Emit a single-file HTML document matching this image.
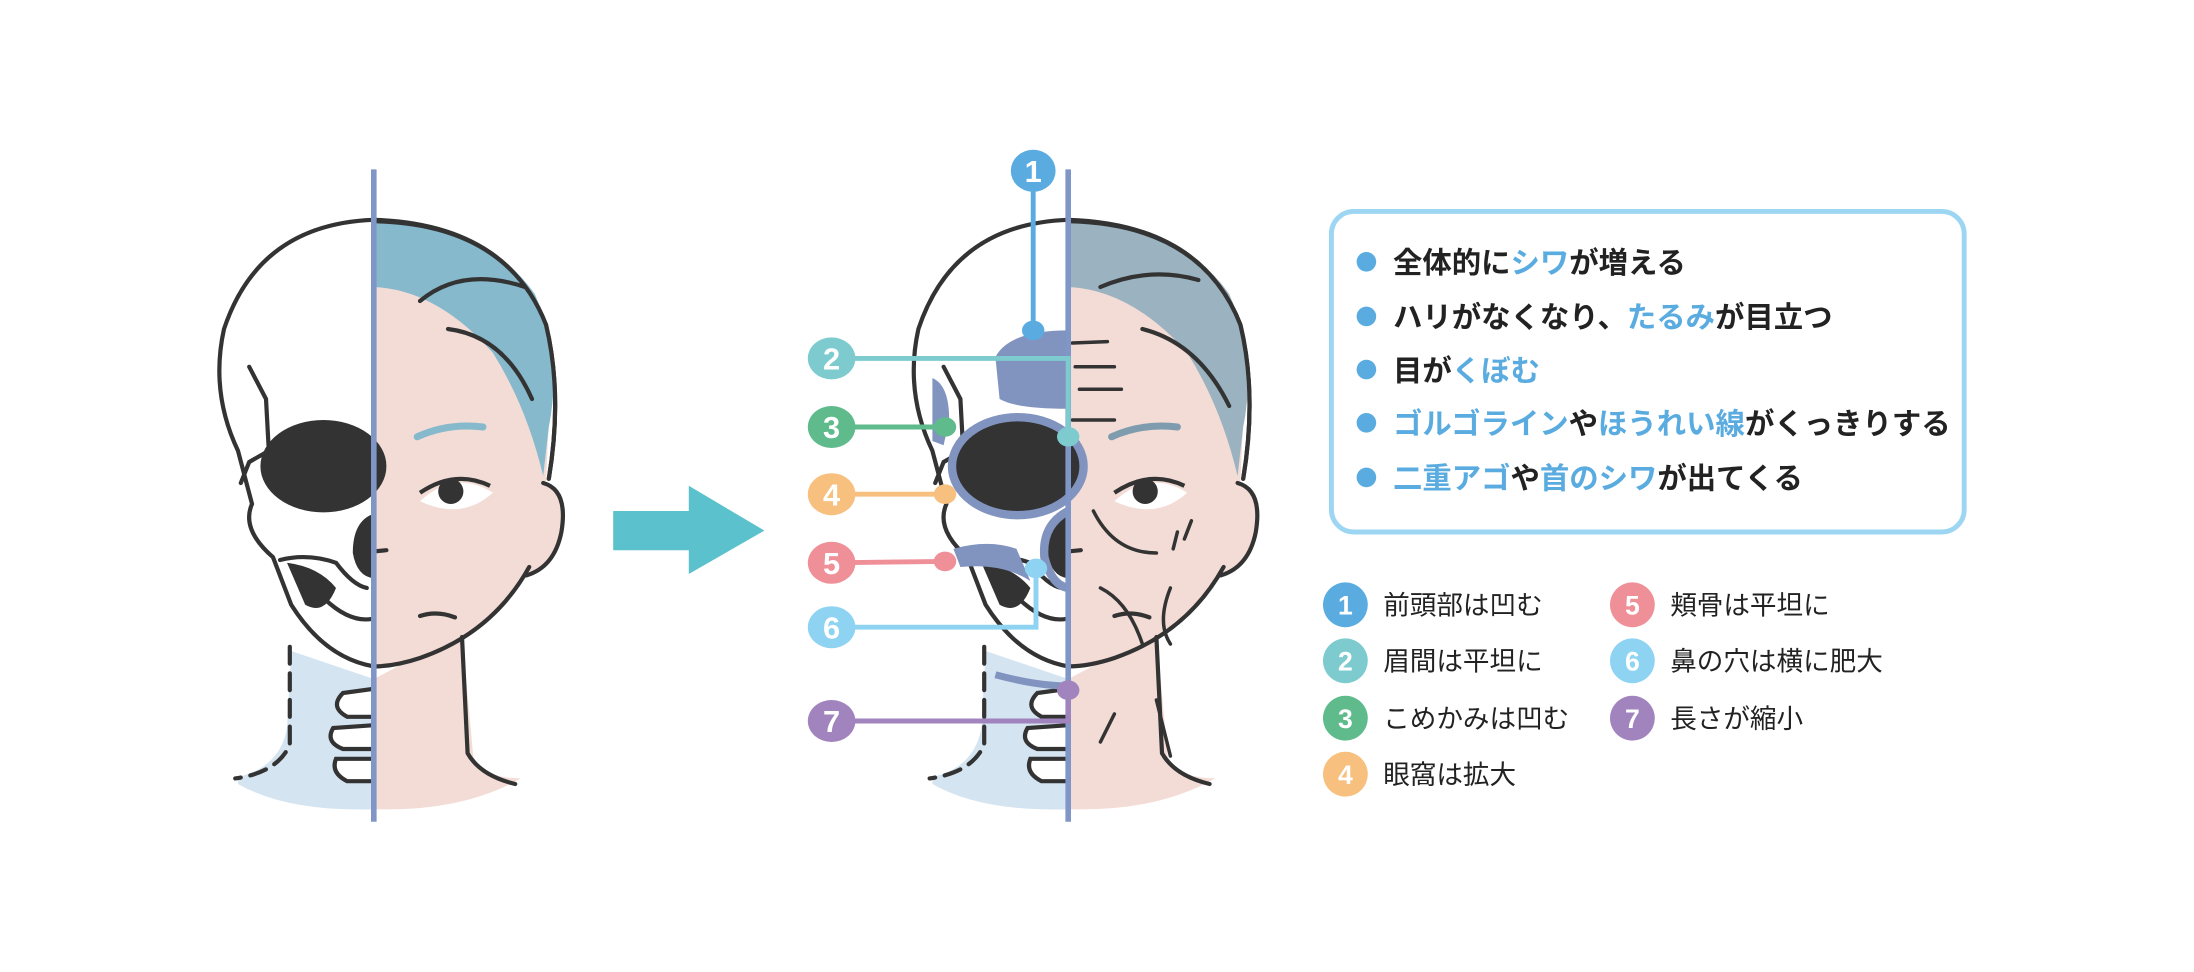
<!DOCTYPE html>
<html><head><meta charset="utf-8"><style>
html,body{margin:0;padding:0;background:#fff;}
svg{display:block;}
text{font-family:"Liberation Sans","Noto Sans CJK JP",sans-serif;}
</style></head><body>
<svg width="2194" height="972" viewBox="0 0 1567.14 694.29" xmlns="http://www.w3.org/2000/svg">
<defs>
<g id="headbase">
  <!-- neck fills -->
  <path d="M170,555 Q200,548 205,520 L208,465 L267,485 L267,578 Q205,580 170,560 Z" fill="#d4e4f1"/>
  <path d="M267,485 L330,452 L338,540 Q345,556 372,556 Q330,580 267,578 Z" fill="#f3dcd6"/>
  <!-- skull white -->
  <path d="M267,157 Q185,160 160,235 Q150,280 170,322 L180,360 Q172,378 195,398 L208,432 Q232,470 267,476 Z" fill="#fff"/>
  <!-- face pink -->
  <path d="M267,195 Q340,200 375,270 L392,300 L390,345 Q404,352 400,380 Q395,405 377,410 Q350,452 300,470 Q280,476 267,476 Z" class="face"/>
  <!-- outline -->
  <g fill="none" stroke="#333" stroke-width="3" stroke-linecap="round">
    <path d="M267,157 Q185,160 160,235 Q150,280 170,322 L180,360 Q172,378 195,398 L208,432 Q232,470 267,476"/>
    <path d="M267,157 Q362,160 390,232 Q402,282 392,342"/>
    <path d="M388,345 Q406,350 401,380 Q396,405 376,411"/>
    <path d="M378,405 Q352,452 300,470 Q282,476 267,476"/>
    <path d="M330,455 L334,538 Q343,554 368,560"/>
    <path d="M207,462 L207,532 Q198,552 168,556" stroke-dasharray="12,7"/>
    <path d="M178,262 L190,285 L192,322 L178,330 L172,345"/>
    <path d="M200,400 Q220,395 240,402 Q252,418 262,420"/>
    <path d="M232,428 Q250,445 266,442"/>
    <path d="M300,440 Q312,436 325,441"/>
    <path d="M266,394 L276,393"/>
  </g>
  <!-- eye socket & nose (skull) -->
  <ellipse cx="231" cy="333" rx="45" ry="33" fill="#333"/>
  <path d="M267,367 Q252,372 252,395 Q255,412 267,413 Z" fill="#333"/>
  <path d="M205,402 Q228,405 240,420 Q232,440 218,432 Z" fill="#333"/>
  <!-- vertebrae -->
  <g fill="#fff" stroke="#333" stroke-width="3">
    <path d="M245,495 Q235,505 248,512 L267,512 L267,492 Z"/>
    <path d="M238,520 Q232,530 245,535 L267,535 L267,518 Z"/>
    <path d="M240,542 Q236,552 248,558 L267,558 L267,542 Z"/>
  </g>
  <!-- eye -->
  <path d="M300,358 Q325,335 352,352 Q330,372 300,358 Z" fill="#fff"/>
  <circle cx="322" cy="351" r="9" fill="#333"/>
  <path d="M300,352 Q325,335 350,347" fill="none" stroke="#333" stroke-width="3"/>
</g>
</defs>

<!-- LEFT HEAD -->
<g>
  <style>.face{fill:#f3dcd6}</style>
  <use href="#headbase"/>
  <path d="M267,158 Q345,158 382,210 Q402,255 392,305 L388,340 Q376,290 352,252 Q312,207 267,205 Z" fill="#86b9cc"/>
  <g fill="none" stroke="#333" stroke-width="3" stroke-linecap="round">
    <path d="M267,158 Q362,160 390,232 Q402,282 392,342"/>
    <path d="M300,215 Q330,190 375,205"/>
    <path d="M320,235 Q360,240 380,285"/>
  </g>
  <path d="M298,312 Q320,302 345,305" fill="none" stroke="#86b9cc" stroke-width="5" stroke-linecap="round"/>
  <line x1="267" y1="121" x2="267" y2="587" stroke="#7f96c6" stroke-width="4"/>
</g>

<!-- ARROW -->
<path d="M438,365 L492,365 L492,347 L546,379 L492,410 L492,393 L438,393 Z" fill="#5bc1cc"/>

<!-- RIGHT HEAD -->
<g transform="translate(496,0)">
  <use href="#headbase"/>
  <path d="M267,158 Q345,158 382,210 Q402,255 392,305 L388,340 Q376,290 352,252 Q312,207 267,205 Z" fill="#9bb3c0"/>
  <g fill="none" stroke="#333" stroke-width="3" stroke-linecap="round">
    <path d="M267,158 Q362,160 390,232 Q402,282 392,342"/>
    <path d="M290,205 Q325,190 360,200"/>
    <path d="M320,235 Q360,245 382,290"/>
    <path d="M270,245 L295,244 M272,262 L300,262 M275,278 L305,278 M270,300 L300,300" stroke-width="2.5"/>
    <path d="M285,365 Q300,395 330,395 M345,380 L342,392 M355,372 L350,385" stroke-width="2.5"/>
    <path d="M290,420 Q310,430 320,460 M340,420 Q330,445 340,460" stroke-width="2.5"/>
    <path d="M330,500 L340,540 M300,510 L290,530" stroke-width="2.5"/>
  </g>
  <path d="M298,312 Q320,302 345,305" fill="none" stroke="#7f9cae" stroke-width="5" stroke-linecap="round"/>
  <!-- purple bone areas -->
  <path d="M215,255 Q225,236 267,236 L267,292 Q230,292 218,285 Z" fill="#8193bf"/>
  <path d="M170,270 Q182,275 182,300 L178,318 L170,315 Z" fill="#8193bf"/>
  <ellipse cx="231" cy="333" rx="47" ry="35" fill="none" stroke="#8193bf" stroke-width="6"/>
  <path d="M185,392 Q210,385 230,392 L240,415 Q220,402 190,405 Z" fill="#8193bf"/>
  <path d="M267,365 Q248,375 250,398 Q255,418 267,420" fill="none" stroke="#8193bf" stroke-width="6"/>
  <path d="M215,482 Q245,490 267,490" fill="none" stroke="#8193bf" stroke-width="5"/>
  <line x1="267" y1="121" x2="267" y2="587" stroke="#7f96c6" stroke-width="4"/>
</g>

<!-- CONNECTORS -->
<g stroke-width="3.5" fill="none">
  <path d="M738,122 L738,236" stroke="#5aace0"/>
  <path d="M594,256 L763,256 L763,312" stroke="#7ecbcf"/>
  <path d="M594,305 L675,305" stroke="#5fba8c"/>
  <path d="M594,353 L675,353" stroke="#f7c07e"/>
  <path d="M594,402 L675,401" stroke="#ef8f98"/>
  <path d="M594,448 L740,448 L740,407" stroke="#8fd3f2"/>
  <path d="M594,515 L763,515 L763,493" stroke="#a184bd"/>
</g>
<g>
  <ellipse cx="738" cy="236" rx="8" ry="7" fill="#5aace0"/>
  <ellipse cx="763" cy="312" rx="8" ry="7" fill="#7ecbcf"/>
  <ellipse cx="675" cy="305" rx="8" ry="7" fill="#5fba8c"/>
  <ellipse cx="675" cy="353" rx="8" ry="7" fill="#f7c07e"/>
  <ellipse cx="675" cy="401" rx="8" ry="7" fill="#ef8f98"/>
  <ellipse cx="740" cy="406" rx="8" ry="7" fill="#8fd3f2"/>
  <ellipse cx="763" cy="493" rx="8" ry="7" fill="#a184bd"/>
</g>
<g font-size="22" font-weight="bold" fill="#fff" text-anchor="middle">
  <ellipse cx="738" cy="122" rx="16" ry="15" fill="#5aace0"/><text x="738" y="130">1</text>
  <ellipse cx="594" cy="256" rx="17" ry="15" fill="#7ecbcf"/><text x="594" y="264">2</text>
  <ellipse cx="594" cy="305" rx="17" ry="15" fill="#5fba8c"/><text x="594" y="313">3</text>
  <ellipse cx="594" cy="353" rx="17" ry="15" fill="#f7c07e"/><text x="594" y="361">4</text>
  <ellipse cx="594" cy="402" rx="17" ry="15" fill="#ef8f98"/><text x="594" y="410">5</text>
  <ellipse cx="594" cy="448" rx="17" ry="15" fill="#8fd3f2"/><text x="594" y="456">6</text>
  <ellipse cx="594" cy="515" rx="17" ry="15" fill="#a184bd"/><text x="594" y="523">7</text>
</g>

<!-- BOX -->
<rect x="951" y="151" width="452" height="229" rx="16" fill="#fff" stroke="#9dd6f3" stroke-width="3.5"/>
<g fill="#5aace0">
  <circle cx="976" cy="187" r="7"/><circle cx="976" cy="226" r="7"/><circle cx="976" cy="264" r="7"/>
  <circle cx="976" cy="302" r="7"/><circle cx="976" cy="341" r="7"/>
</g>
<g font-size="21" font-weight="bold" fill="#222">
  <text x="995" y="195">全体的に<tspan fill="#5aace0">シワ</tspan>が増える</text>
  <text x="995" y="234">ハリがなくなり、<tspan fill="#5aace0">たるみ</tspan>が目立つ</text>
  <text x="995" y="272">目が<tspan fill="#5aace0">くぼむ</tspan></text>
  <text x="995" y="310"><tspan fill="#5aace0">ゴルゴライン</tspan>や<tspan fill="#5aace0">ほうれい線</tspan>がくっきりする</text>
  <text x="995" y="349"><tspan fill="#5aace0">二重アゴ</tspan>や<tspan fill="#5aace0">首のシワ</tspan>が出てくる</text>
</g>

<!-- LEGEND -->
<g font-size="19" font-weight="bold" fill="#fff" text-anchor="middle">
  <ellipse cx="961" cy="432" rx="16" ry="16" fill="#5aace0"/><text x="961" y="439">1</text>
  <ellipse cx="961" cy="472" rx="16" ry="16" fill="#7ecbcf"/><text x="961" y="479">2</text>
  <ellipse cx="961" cy="513" rx="16" ry="16" fill="#5fba8c"/><text x="961" y="520">3</text>
  <ellipse cx="961" cy="553" rx="16" ry="16" fill="#f7c07e"/><text x="961" y="560">4</text>
  <ellipse cx="1166" cy="432" rx="16" ry="16" fill="#ef8f98"/><text x="1166" y="439">5</text>
  <ellipse cx="1166" cy="472" rx="16" ry="16" fill="#8fd3f2"/><text x="1166" y="479">6</text>
  <ellipse cx="1166" cy="513" rx="16" ry="16" fill="#a184bd"/><text x="1166" y="520">7</text>
</g>
<g font-size="19" fill="#222">
  <text x="988" y="439">前頭部は凹む</text>
  <text x="988" y="479">眉間は平坦に</text>
  <text x="988" y="520">こめかみは凹む</text>
  <text x="988" y="560">眼窩は拡大</text>
  <text x="1193" y="439">頬骨は平坦に</text>
  <text x="1193" y="479">鼻の穴は横に肥大</text>
  <text x="1193" y="520">長さが縮小</text>
</g>
</svg>
</body></html>
